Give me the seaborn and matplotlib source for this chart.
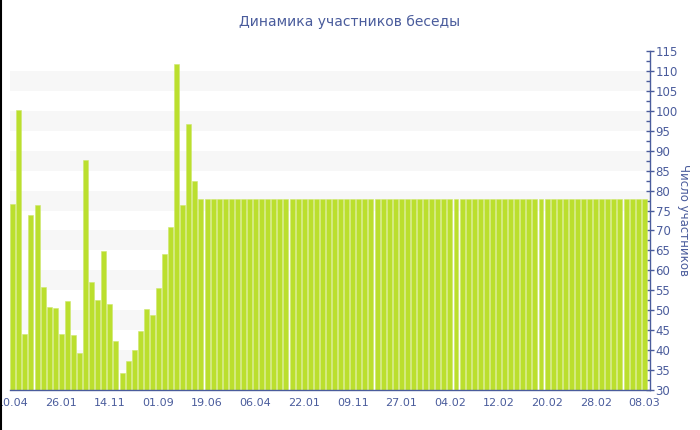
import matplotlib
matplotlib.use("Agg")
import matplotlib.pyplot as plt
import seaborn as sns
import pandas as pd
from matplotlib.ticker import MultipleLocator
from matplotlib.lines import Line2D

# значения
first_days = [76.7, 100.3, 44.1, 73.9, 76.5, 55.9, 50.7, 50.5, 44.1, 52.3,
              43.8, 39.3, 87.6, 57.0, 52.5, 64.9, 51.6, 42.4, 34.3, 37.3,
              40.0, 44.7, 50.4, 48.9, 55.7, 64.1, 70.8, 111.8, 76.3, 96.8,
              82.4]
# дальше число участников не меняется: 78 на всех оставшихся 74 столбцах
plateau = [78] * 74
members = first_days + plateau

tick_labels = ["10.04", "26.01", "14.11", "01.09", "19.06", "06.04", "22.01",
               "09.11", "27.01", "04.02", "12.02", "20.02", "28.02", "08.03"]

title = "Динамика участников беседы"
ylabel = "Число участников"

blue = "#4a5c9c"
bar_color = "#bbdf2e"

df = pd.DataFrame({"day": range(len(members)), "members": members})

sns.set_style("white")
plt.rcParams["font.family"] = ["DejaVu Sans"]

fig = plt.figure(figsize=(7, 4.3), dpi=100)
ax = fig.add_axes([10 / 700, 40 / 430, 640 / 700, 339 / 430])

# серые полосы на фоне
for lo in range(35, 110, 10):
    ax.axhspan(lo, lo + 5, color="#f7f7f7", zorder=0, lw=0)

sns.barplot(data=df, x="day", y="members", color=bar_color, saturation=1,
            width=0.82, edgecolor="#cfe86e", linewidth=0.4, ax=ax, zorder=2)

ax.set_ylim(30, 115)
ax.set_xlim(-0.45, 104.95)

ax.set_xticks(range(0, len(members), 8))
ax.set_xticklabels(tick_labels)

ax.yaxis.tick_right()
ax.yaxis.set_label_position("right")
ax.yaxis.set_major_locator(MultipleLocator(5))
ax.yaxis.set_minor_locator(MultipleLocator(2.5))

for s in ["top", "left"]:
    ax.spines[s].set_visible(False)
for s in ["bottom", "right"]:
    ax.spines[s].set_color(blue)
    ax.spines[s].set_linewidth(1)

ax.tick_params(axis="x", colors=blue, labelsize=8, length=4, width=1,
               direction="out", pad=2)
ax.tick_params(axis="y", which="major", colors=blue, labelsize=8.5,
               length=6, width=1, direction="inout", pad=1)
ax.tick_params(axis="y", which="minor", colors=blue, length=3, width=1,
               direction="in")

ax.set_xlabel("")
ax.set_ylabel(ylabel, color=blue, fontsize=8.5, rotation=270, labelpad=9)

fig.text(0.5, 1 - 22 / 430, title, ha="center", va="center",
         color=blue, fontsize=10)

# тёмная рамка слева
fig.add_artist(Line2D([0.001, 0.001], [0, 1], color="black", lw=1.5,
                      transform=fig.transFigure))

fig.savefig("out.png", dpi=100)
